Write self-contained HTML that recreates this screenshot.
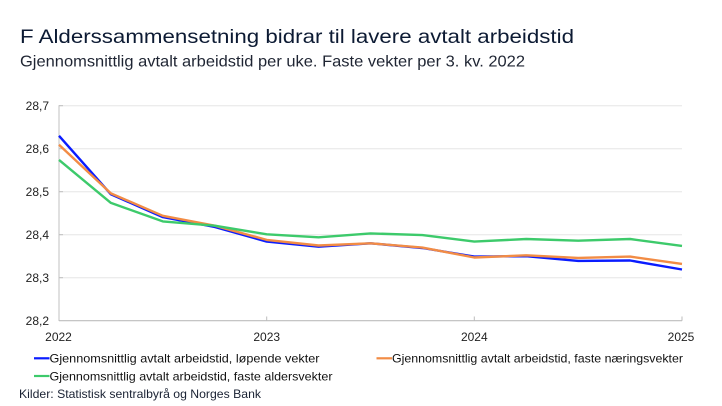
<!DOCTYPE html>
<html>
<head>
<meta charset="utf-8">
<style>
  html, body { margin:0; padding:0; background:#ffffff; }
  svg { display:block; }
  text { font-family: "Liberation Sans", "DejaVu Sans", sans-serif; }
</style>
</head>
<body>
<svg width="722" height="406" viewBox="0 0 722 406" xmlns="http://www.w3.org/2000/svg">
  <rect x="0" y="0" width="722" height="406" fill="#ffffff"/>

  <!-- Title / subtitle -->
  <text x="20" y="43" font-size="19.5" fill="#0c1a33" textLength="554" lengthAdjust="spacingAndGlyphs">F Alderssammensetning bidrar til lavere avtalt arbeidstid</text>
  <text x="20" y="66.5" font-size="16" fill="#1f2533" textLength="505" lengthAdjust="spacingAndGlyphs">Gjennomsnittlig avtalt arbeidstid per uke. Faste vekter per 3. kv. 2022</text>

  <!-- Gridlines -->
  <g stroke="#e6e6e6" stroke-width="1">
    <line x1="59" y1="105.7" x2="682" y2="105.7"/>
    <line x1="59" y1="148.7" x2="682" y2="148.7"/>
    <line x1="59" y1="191.7" x2="682" y2="191.7"/>
    <line x1="59" y1="234.7" x2="682" y2="234.7"/>
    <line x1="59" y1="277.7" x2="682" y2="277.7"/>
  </g>
  <!-- Axes -->
  <line x1="59" y1="105.2" x2="59" y2="321" stroke="#cfcfcf" stroke-width="1.3"/>
  <line x1="59" y1="320.7" x2="682" y2="320.7" stroke="#bdbdbd" stroke-width="1.2"/>
  <g stroke="#bdbdbd" stroke-width="1">
    <line x1="59" y1="105.7" x2="63" y2="105.7"/>
    <line x1="59" y1="148.7" x2="63" y2="148.7"/>
    <line x1="59" y1="191.7" x2="63" y2="191.7"/>
    <line x1="59" y1="234.7" x2="63" y2="234.7"/>
    <line x1="59" y1="277.7" x2="63" y2="277.7"/>
    <line x1="266.7" y1="316.5" x2="266.7" y2="320.7"/>
    <line x1="474.3" y1="316.5" x2="474.3" y2="320.7"/>
    <line x1="682" y1="316.5" x2="682" y2="320.7"/>
  </g>

  <!-- Y labels -->
  <g font-size="12" fill="#222222" text-anchor="end">
    <text x="49" y="110.2">28,7</text>
    <text x="49" y="153.2">28,6</text>
    <text x="49" y="196.2">28,5</text>
    <text x="49" y="239.2">28,4</text>
    <text x="49" y="282.2">28,3</text>
    <text x="49" y="325.2">28,2</text>
  </g>
  <!-- X labels -->
  <g font-size="12" fill="#222222" text-anchor="middle">
    <text x="58.5" y="341">2022</text>
    <text x="266.7" y="341">2023</text>
    <text x="474.3" y="341">2024</text>
    <text x="681" y="341">2025</text>
  </g>

  <!-- Series -->
  <g fill="none" stroke-width="2.4" stroke-linejoin="round" stroke-linecap="butt">
    <polyline stroke="#0a1cff" points="59,135.8 110.9,194.3 162.8,217.1 214.75,227.0 266.7,241.6 318.6,246.7 370.5,243.3 422.4,248.0 474.3,256.6 526.25,256.2 578.2,260.9 630.1,260.5 682,269.5"/>
    <polyline stroke="#f28c45" points="59,144.8 110.9,193.4 162.8,215.8 214.75,225.7 266.7,239.9 318.6,245.5 370.5,243.3 422.4,247.6 474.3,257.5 526.25,255.3 578.2,257.9 630.1,256.6 682,263.9"/>
    <polyline stroke="#3dca6b" points="59,159.9 110.9,202.9 162.8,221.4 214.75,225.7 266.7,234.3 318.6,237.3 370.5,233.4 422.4,235.1 474.3,241.6 526.25,239.0 578.2,240.7 630.1,239.0 682,245.9"/>
  </g>

  <!-- Legend -->
  <line x1="34" y1="358.3" x2="49.5" y2="358.3" stroke="#0a1cff" stroke-width="2.2"/>
  <text x="49.5" y="362.5" font-size="12" fill="#111111" textLength="270" lengthAdjust="spacingAndGlyphs">Gjennomsnittlig avtalt arbeidstid, løpende vekter</text>
  <line x1="376.5" y1="358.3" x2="392" y2="358.3" stroke="#f28c45" stroke-width="2.2"/>
  <text x="392" y="362.5" font-size="12" fill="#111111" textLength="291" lengthAdjust="spacingAndGlyphs">Gjennomsnittlig avtalt arbeidstid, faste næringsvekter</text>
  <line x1="34" y1="376" x2="49.5" y2="376" stroke="#3dca6b" stroke-width="2.2"/>
  <text x="49.5" y="380.3" font-size="12" fill="#111111" textLength="283" lengthAdjust="spacingAndGlyphs">Gjennomsnittlig avtalt arbeidstid, faste aldersvekter</text>

  <!-- Source -->
  <text x="19" y="398" font-size="12" fill="#1a2233" textLength="242" lengthAdjust="spacingAndGlyphs">Kilder: Statistisk sentralbyrå og Norges Bank</text>
</svg>
</body>
</html>
